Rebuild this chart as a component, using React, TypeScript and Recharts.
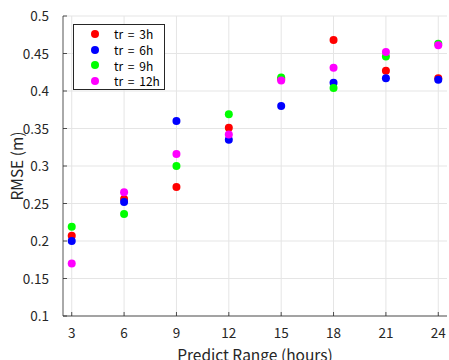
import { CartesianGrid, Scatter, ScatterChart, XAxis, YAxis } from "recharts";

const hours = [3, 6, 9, 12, 15, 18, 21, 24];
const tr3 = [0.207, 0.256, 0.272, 0.351, 0.416, 0.468, 0.427, 0.417];
const tr6 = [0.2, 0.252, 0.36, 0.335, 0.38, 0.411, 0.417, 0.415];
const tr9 = [0.219, 0.236, 0.3, 0.369, 0.418, 0.404, 0.446, 0.463];
const tr12 = [0.17, 0.265, 0.316, 0.342, 0.414, 0.431, 0.452, 0.461];

const xTicks = [3, 6, 9, 12, 15, 18, 21, 24];
const yTicks = [0.1, 0.15, 0.2, 0.25, 0.3, 0.35, 0.4, 0.45, 0.5];

const series = [
  { name: "tr = 3h", color: "#ff0000", values: tr3 },
  { name: "tr = 6h", color: "#0000ff", values: tr6 },
  { name: "tr = 9h", color: "#00ff00", values: tr9 },
  { name: "tr = 12h", color: "#ff00ff", values: tr12 },
];

const font = "'Noto Sans CJK JP', 'Noto Sans', sans-serif";
const ink = "#262626";

const dot = (color: string) => (p: any) => <circle cx={p.cx} cy={p.cy} r={4} fill={color} />;

function XTick({ x, y, payload }: any) {
  return (
    <g>
      <line x1={x} x2={x} y1={316} y2={312} stroke={ink} strokeWidth={0.8} />
      <text x={x} y={y + 14} textAnchor="middle" fill={ink} fontSize={13.5} fontFamily={font}>
        {payload.value}
      </text>
    </g>
  );
}

function YTick({ x, y, payload }: any) {
  return (
    <g>
      <line x1={63} x2={67} y1={y} y2={y} stroke={ink} strokeWidth={0.8} />
      <text x={x - 6} y={y + 5} textAnchor="end" fill={ink} fontSize={13.5} fontFamily={font}>
        {String(Math.round(payload.value * 100) / 100)}
      </text>
    </g>
  );
}

function YLabel({ viewBox }: any) {
  const cy = viewBox.y + viewBox.height / 2;
  return (
    <text
      transform={`translate(23, ${cy}) rotate(-90)`}
      textAnchor="middle"
      fill={ink}
      fontSize={15.5}
      fontFamily={font}
    >
      RMSE (m)
    </text>
  );
}

function LegendBox() {
  return (
    <div
      style={{
        position: "absolute",
        left: 73,
        top: 24,
        width: 92,
        height: 66,
        border: "1px solid #262626",
        background: "#fff",
        boxSizing: "border-box",
        paddingTop: 1,
        fontFamily: font,
        fontSize: 12,
        color: "#000",
        wordSpacing: 2,
      }}
    >
      {series.map((s) => (
        <div key={s.name} style={{ display: "flex", alignItems: "center", height: 15.7 }}>
          <span
            style={{ width: 8, height: 8, borderRadius: 4, background: s.color, marginLeft: 17, marginRight: 15 }}
          />
          <span>{s.name}</span>
        </div>
      ))}
    </div>
  );
}

export default function App() {
  return (
    <div style={{ position: "fixed", left: 0, top: 0, width: 449, height: 360, background: "#fff", overflow: "hidden" }}>
      <ScatterChart width={449} height={360} margin={{ top: 16, right: 2, bottom: 0, left: 0 }}>
        <CartesianGrid stroke="#e5e5e5" horizontalValues={yTicks} verticalValues={xTicks} />
        <XAxis
          type="number"
          dataKey="x"
          domain={[2.5, 24.5]}
          ticks={xTicks}
          interval={0}
          tickLine={false}
          tick={<XTick />}
          stroke="#555"
          height={44}
          label={{ value: "Predict Range (hours)", position: "insideBottom", offset: -1, fill: ink, fontSize: 15.5, fontFamily: font }}
        />
        <YAxis
          type="number"
          dataKey="y"
          domain={[0.1, 0.5]}
          ticks={yTicks}
          interval={0}
          tickLine={false}
          tick={<YTick />}
          stroke="#555"
          width={63}
          label={<YLabel />}
        />
        {series.map((s) => (
          <Scatter
            key={s.name}
            name={s.name}
            data={hours.map((h, i) => ({ x: h, y: s.values[i] }))}
            fill={s.color}
            shape={dot(s.color)}
            isAnimationActive={false}
          />
        ))}
      </ScatterChart>
      <LegendBox />
    </div>
  );
}
